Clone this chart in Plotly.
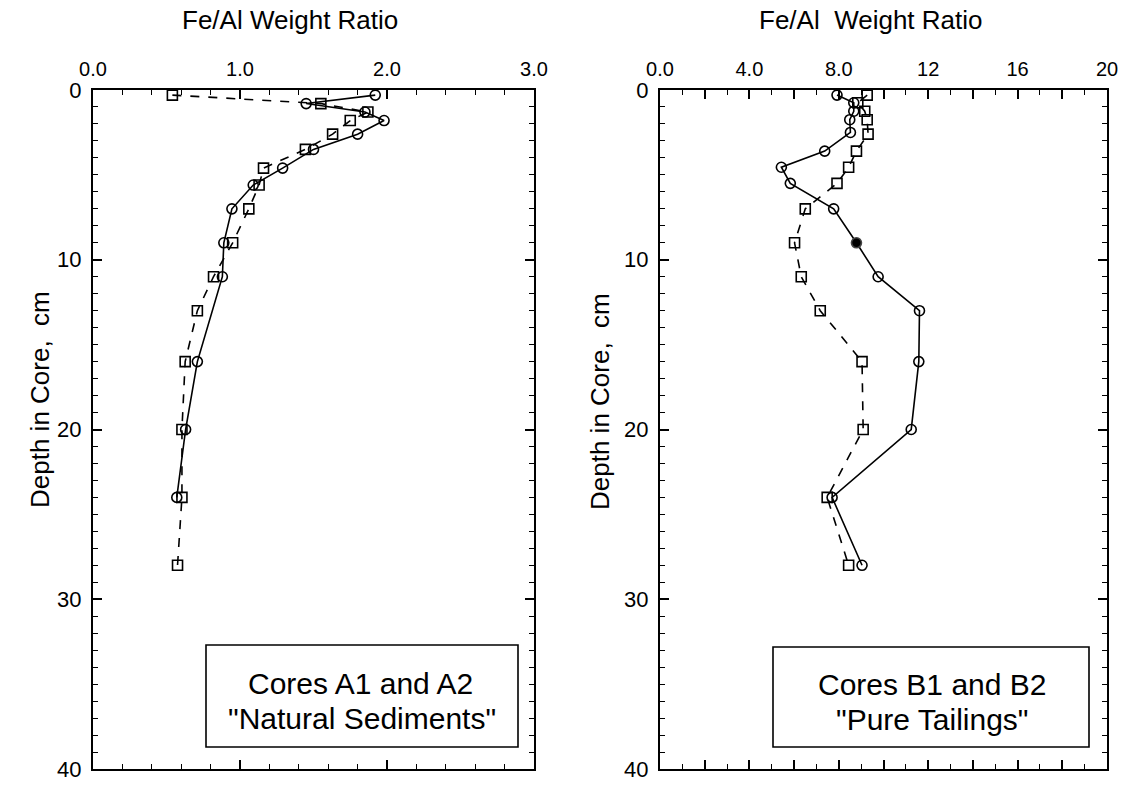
import plotly.graph_objects as go

# Cores A1/A2 "Natural Sediments": Fe/Al ratio vs depth (cm)
a_circle_depth = [0.3, 0.8, 1.3, 1.8, 2.6, 3.5, 4.6, 5.6, 7, 9, 11, 16, 20, 24]
a_circle_ratio = [1.92, 1.45, 1.85, 1.98, 1.80, 1.50, 1.29, 1.09, 0.945, 0.89, 0.88, 0.71, 0.63, 0.57]
a_square_depth = [0.3, 0.8, 1.3, 1.8, 2.6, 3.5, 4.6, 5.6, 7, 9, 11, 13, 16, 20, 24, 28]
a_square_ratio = [0.54, 1.55, 1.87, 1.75, 1.63, 1.445, 1.16, 1.13, 1.06, 0.95, 0.82, 0.71, 0.627, 0.605, 0.605, 0.575]

# Cores B1/B2 "Pure Tailings"
b_circle_depth = [0.3, 0.75, 1.25, 1.75, 2.5, 3.6, 4.55, 5.5, 7, 9, 11, 13, 16, 20, 24, 28]
b_circle_ratio = [7.92, 8.67, 8.67, 8.49, 8.52, 7.37, 5.43, 5.83, 7.77, 8.79, 9.76, 11.61, 11.58, 11.24, 7.70, 9.04]
b_circle_filled = [False] * 9 + [True] + [False] * 6
b_square_depth = [0.3, 0.75, 1.25, 1.75, 2.6, 3.6, 4.55, 5.5, 7, 9, 11, 13, 16, 20, 24, 28]
b_square_ratio = [9.27, 8.85, 9.16, 9.27, 9.31, 8.79, 8.44, 7.92, 6.50, 6.02, 6.32, 7.17, 9.04, 9.09, 7.48, 8.44]

left_ticks = [0, 1, 2, 3]
left_ticktext = ["0.0", "1.0", "2.0", "3.0"]
right_ticks = [0, 2, 4, 6, 8, 10, 12, 14, 16, 18, 20]
right_ticktext = ["0.0", "", "4.0", "", "8.0", "", "12", "", "16", "", "20"]
depth_ticks = [0, 10, 20, 30, 40]

x_title = "Fe/Al Weight Ratio"
x2_title = "Fe/Al  Weight Ratio"
y_title = "Depth in Core,  cm"
box_a = ["Cores A1 and A2", "\"Natural Sediments\""]
box_b = ["Cores B1 and B2", "\"Pure Tailings\""]

FONT = "Liberation Sans, Arial, Helvetica, sans-serif"
W, H = 1125, 785


def px_x(p):
    return p / W


def px_y(p):
    return 1 - p / H


fig = go.Figure()

line_solid = dict(color="black", width=1.6)
line_dash = dict(color="black", width=1.6, dash="dash")

fig.add_trace(go.Scatter(
    x=a_square_ratio, y=a_square_depth, mode="lines+markers",
    line=line_dash,
    marker=dict(symbol="square-open", size=10, color="black", line=dict(width=1.6)),
    xaxis="x", yaxis="y", showlegend=False))
fig.add_trace(go.Scatter(
    x=a_circle_ratio, y=a_circle_depth, mode="lines+markers",
    line=line_solid,
    marker=dict(symbol="circle-open", size=10, color="black", line=dict(width=1.6)),
    xaxis="x", yaxis="y", showlegend=False))

fig.add_trace(go.Scatter(
    x=b_square_ratio, y=b_square_depth, mode="lines+markers",
    line=line_dash,
    marker=dict(symbol="square-open", size=10, color="black", line=dict(width=1.6)),
    xaxis="x2", yaxis="y2", showlegend=False))
fig.add_trace(go.Scatter(
    x=b_circle_ratio, y=b_circle_depth, mode="lines+markers",
    line=line_solid,
    marker=dict(symbol=["circle" if f else "circle-open" for f in b_circle_filled],
                size=10, color="black", line=dict(width=1.6)),
    xaxis="x2", yaxis="y2", showlegend=False))

tickfont = dict(family=FONT, size=20, color="black")
ytickfont = dict(family=FONT, size=22, color="black")
common_x = dict(side="top", showline=True, linecolor="black", linewidth=2,
                mirror="allticks", ticks="inside", ticklen=9, tickwidth=1.5,
                tickcolor="black", showgrid=False, zeroline=False, tickfont=tickfont,
                ticklabelstandoff=4, automargin=False)
common_y = dict(autorange=False, range=[40, 0], showline=True, linecolor="black",
                linewidth=2, mirror="allticks", ticks="inside", ticklen=9,
                tickwidth=1.5, tickcolor="black", showgrid=False, zeroline=False,
                tickvals=depth_ticks, tickfont=ytickfont, ticklabelstandoff=5,
                automargin=False,
                minor=dict(dtick=1, ticklen=5, tickwidth=1.2, tickcolor="black",
                           ticks="inside", showgrid=False))

fig.update_layout(
    width=W, height=H,
    margin=dict(l=0, r=0, t=0, b=0, autoexpand=False),
    paper_bgcolor="white", plot_bgcolor="white",
    xaxis=dict(domain=[px_x(93), px_x(534)], range=[0, 3], anchor="y",
               tickvals=left_ticks, ticktext=left_ticktext,
               minor=dict(dtick=0.2, ticklen=5, tickwidth=1.2, tickcolor="black",
                          ticks="inside", showgrid=False),
               **common_x),
    yaxis=dict(domain=[px_y(769), px_y(90)], anchor="x", **common_y),
    xaxis2=dict(domain=[px_x(660), px_x(1107)], range=[0, 20], anchor="y2",
                tickvals=right_ticks, ticktext=right_ticktext,
                minor=dict(dtick=1, ticklen=5, tickwidth=1.2, tickcolor="black",
                           ticks="inside", showgrid=False),
                **common_x),
    yaxis2=dict(domain=[px_y(769), px_y(90)], anchor="x2", **common_y),
    showlegend=False,
)

title_font = dict(family=FONT, size=26, color="black")
box_font = dict(family=FONT, size=30, color="black")


def note(text, x, y, font, angle=0):
    return dict(text=text, x=px_x(x), y=px_y(y), xref="paper", yref="paper",
                showarrow=False, font=font, textangle=angle,
                xanchor="center", yanchor="middle")


annotations = [
    note(x_title, 290, 20, title_font),
    note(x2_title, 871, 20, title_font),
    note(y_title, 40, 400, title_font, -90),
    note(y_title, 600, 402, title_font, -90),
    note(box_a[0], 360, 683, box_font),
    note(box_a[1], 362, 718, box_font),
    note(box_b[0], 932, 684, box_font),
    note(box_b[1], 932, 719, box_font),
]
fig.update_layout(annotations=annotations)

shapes = [
    dict(type="rect", xref="paper", yref="paper",
         x0=px_x(206), x1=px_x(518), y0=px_y(747), y1=px_y(645),
         line=dict(color="black", width=1.6), layer="above"),
    dict(type="rect", xref="paper", yref="paper",
         x0=px_x(773), x1=px_x(1089), y0=px_y(747), y1=px_y(647),
         line=dict(color="black", width=1.6), layer="above"),
]
fig.update_layout(shapes=shapes)

fig.write_html("out.html")
